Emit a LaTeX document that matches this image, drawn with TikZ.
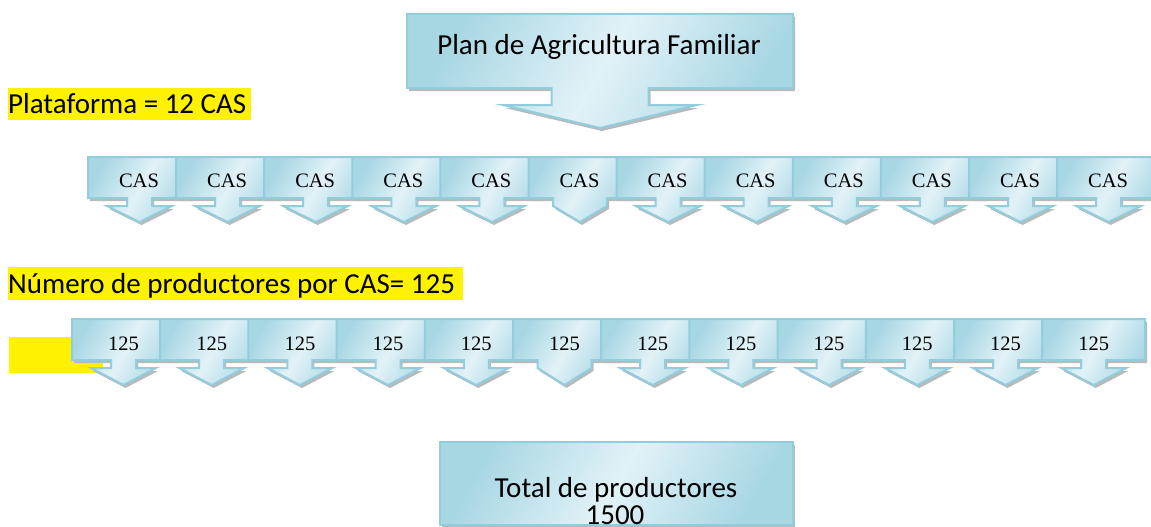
\documentclass[tikz,border=0pt]{standalone}
\usepackage{fontspec}
\setmainfont{Carlito}
\newfontfamily\fuentecas{Liberation Serif}

\definecolor{bordecaja}{RGB}{146,205,221}
\definecolor{azulclaro}{RGB}{226,242,247}
\definecolor{azulmedio}{RGB}{168,215,228}

% Caja con flecha hacia abajo: opciones, izq, arriba, ancho, alto, medio tallo, media punta, largo tallo, largo punta
\newcommand{\flecha}[9]{%
  \path[#1] (#2,#3) -- ({#2+#4},#3) -- ({#2+#4},{#3+#5})
    -- ({#2+#4/2+#6},{#3+#5}) -- ({#2+#4/2+#6},{#3+#5+#8})
    -- ({#2+#4/2+#7},{#3+#5+#8}) -- ({#2+#4/2},{#3+#5+#8+#9})
    -- ({#2+#4/2-#7},{#3+#5+#8}) -- ({#2+#4/2-#6},{#3+#5+#8})
    -- ({#2+#4/2-#6},{#3+#5}) -- (#2,{#3+#5}) -- cycle;}

\begin{document}
\begin{tikzpicture}[x=1pt,y=-1pt,
  caja/.style={draw=bordecaja,line width=2pt,left color=azulmedio,right color=azulmedio,middle color=azulclaro,shading angle=60},
  sombra/.style={fill=gray!55},
  titulo/.style={font=\fontsize{29}{35}\selectfont,inner sep=0pt,anchor=base},
  textocaja/.style={font=\fuentecas\fontsize{20.5}{24}\selectfont,inner sep=0pt,anchor=base}]

\useasboundingbox (0,0) rectangle (1151,527);

% Flecha principal
\flecha{sombra,shift={(2,3)}}{407}{14}{386}{74}{48.5}{97}{17}{23}
\flecha{caja}{407}{14}{386}{74}{48.5}{97}{17}{23}
\node[titulo] (plan) at (599,55) {Plan de Agricultura Familiar};

% Resaltados amarillos
\fill[yellow] (8,88) rectangle (251,120);
\node[titulo,anchor=base west] (plataforma) at (8,113) {Plataforma = 12 CAS};
\fill[yellow] (8,267) rectangle (463,300);
\node[titulo,anchor=base west] (numero) at (8,293) {Número de productores por CAS= 125};
\fill[yellow] (9,337) rectangle (103,373);

% Fila de CAS
\foreach \i in {0,...,11}{
  \pgfmathsetmacro\xa{88+88.1*\i}
  \pgfmathsetmacro\ta{\i==5 ? 27 : 12.5}
  \pgfmathsetmacro\ala{\i==5 ? 27 : 32.5}
  \flecha{sombra,shift={(2,3)}}{\xa}{157}{103}{41}{\ta}{\ala}{8}{16}
  \flecha{caja}{\xa}{157}{103}{41}{\ta}{\ala}{8}{16}
  \node[textocaja] (cas\i) at ({\xa+51},187) {CAS};
}

% Fila de productores
\foreach \i in {0,...,11}{
  \pgfmathsetmacro\xa{72+88.2*\i}
  \pgfmathsetmacro\ta{\i==5 ? 27 : 12.5}
  \pgfmathsetmacro\ala{\i==5 ? 27 : 32.5}
  \flecha{sombra,shift={(2,3)}}{\xa}{319}{103}{41}{\ta}{\ala}{8}{17}
  \flecha{caja}{\xa}{319}{103}{41}{\ta}{\ala}{8}{17}
  \node[textocaja] (prod\i) at ({\xa+51.5},350) {125};
}

% Total
\fill[sombra] (442,445) rectangle (795,528);
\path[caja] (440,442) rectangle (793,525);
\begin{scope}
\clip (441,443) rectangle (792,524);
\node[titulo] (total) at (616,497) {Total de productores};
\node[titulo] (cifra) at (615,524.5) {1500};
\end{scope}

\end{tikzpicture}
\end{document}
